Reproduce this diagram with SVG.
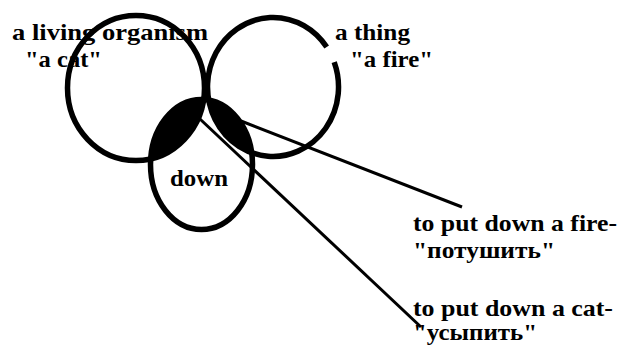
<svg xmlns="http://www.w3.org/2000/svg" width="619" height="347" viewBox="0 0 619 347">
<style>
.ring{fill:none;stroke:#000;stroke-width:5.5}
.lbl{font-family:"Liberation Serif","Times New Roman",serif;font-weight:bold;font-size:23.5px;fill:#000}
.con{stroke:#000;stroke-width:3;fill:none}
</style>
<defs>
<clipPath id="circles">
<ellipse cx="136" cy="88" rx="68.5" ry="72.5"/>
<ellipse cx="273" cy="87" rx="65.5" ry="69.5"/>
</clipPath>
</defs>
<rect width="619" height="347" fill="#fff"/>
<g id="overlap">
<ellipse cx="201.5" cy="164.5" rx="51" ry="65" fill="#000" clip-path="url(#circles)"/>
</g>
<g id="organism">
<ellipse class="ring" cx="136" cy="88" rx="68.5" ry="72.5"/>
<text class="lbl" x="12" y="40" textLength="196" lengthAdjust="spacingAndGlyphs">a living organism</text>
<text class="lbl" x="25" y="67" textLength="77" lengthAdjust="spacingAndGlyphs">"a cat"</text>
</g>
<g id="thing">
<path class="ring" d="M334.2 62.1 A65.5 69.5 0 1 1 326.7 47.1"/>
<text class="lbl" x="335" y="40" textLength="75" lengthAdjust="spacingAndGlyphs">a thing</text>
<text class="lbl" x="350" y="67" textLength="83" lengthAdjust="spacingAndGlyphs">"a fire"</text>
</g>
<g id="down">
<ellipse class="ring" cx="201.5" cy="164.5" rx="51" ry="65"/>
<text class="lbl" x="170" y="186" textLength="58" lengthAdjust="spacingAndGlyphs">down</text>
</g>
<g id="connectors">
<line class="con" x1="241" y1="121" x2="462" y2="207"/>
<line class="con" x1="200" y1="119" x2="421" y2="327"/>
</g>
<g id="fire-label">
<text class="lbl" x="413" y="231" textLength="204" lengthAdjust="spacingAndGlyphs">to put down a fire-</text>
<text class="lbl" x="413" y="258" textLength="142" lengthAdjust="spacingAndGlyphs">"потушить"</text>
</g>
<g id="cat-label">
<text class="lbl" x="413" y="316" textLength="200" lengthAdjust="spacingAndGlyphs">to put down a cat-</text>
<text class="lbl" x="413" y="340" textLength="124" lengthAdjust="spacingAndGlyphs">"усыпить"</text>
</g>
</svg>
